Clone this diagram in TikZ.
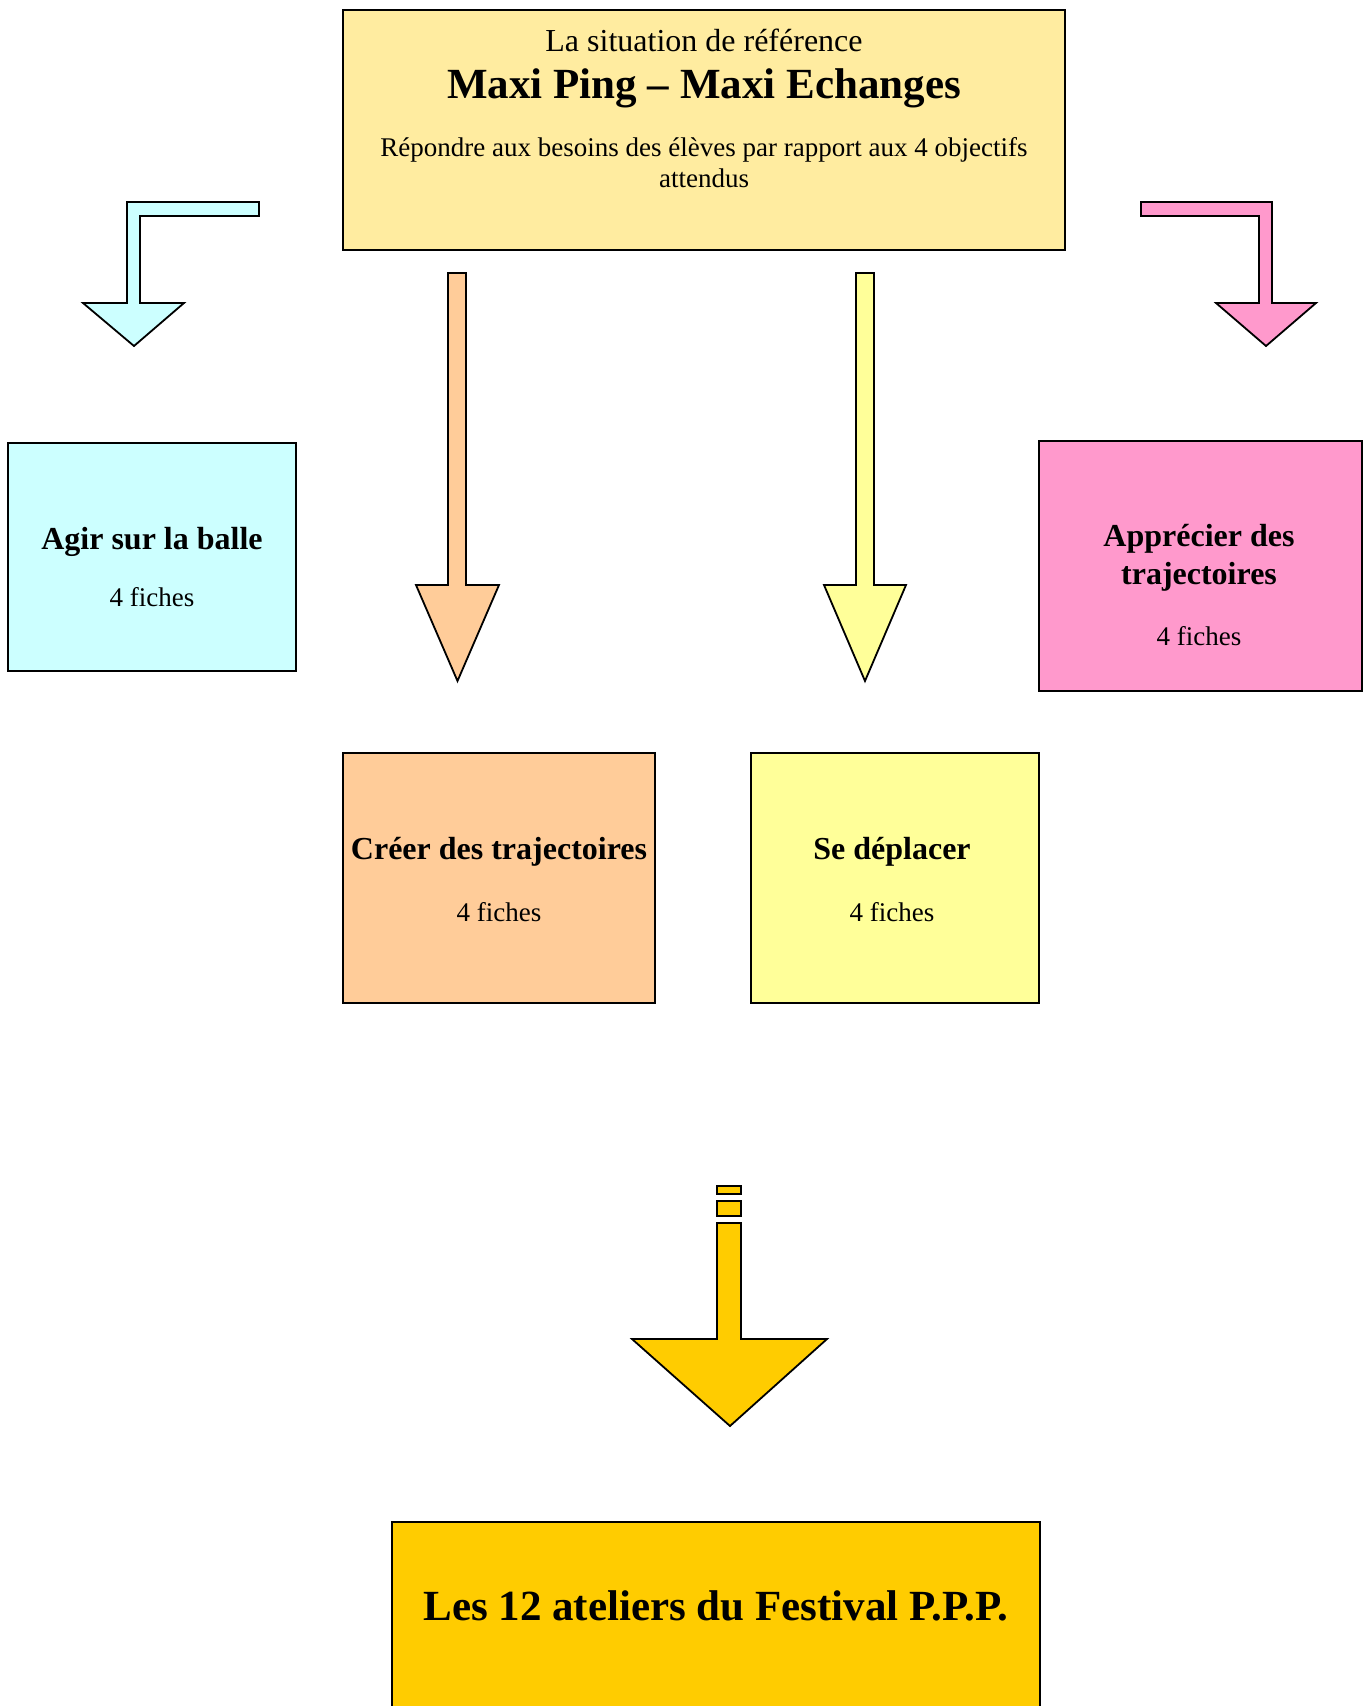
\documentclass[tikz,border=0pt]{standalone}
\usepackage{fontspec}
\setmainfont{Liberation Serif}
\definecolor{topc}{HTML}{FFECA0}
\definecolor{cyanc}{HTML}{CCFFFF}
\definecolor{pinkc}{HTML}{FF99CC}
\definecolor{orangec}{HTML}{FFCC99}
\definecolor{yellowc}{HTML}{FFFF99}
\definecolor{goldc}{HTML}{FFCC00}
\begin{document}
\begin{tikzpicture}[x=1pt,y=-1pt,
  box/.style={draw=black, line width=2pt, inner sep=0pt},
  blockarrow/.style={draw=black, line width=1.8pt, line join=miter},
  lbl/.style={inner sep=0pt, text height=0.7em, text depth=0.2em, anchor=center},
  smalltxt/.style={lbl, yshift=-7pt, font=\fontsize{27}{30}\selectfont},
  midtxt/.style={lbl, yshift=-9pt, font=\fontsize{32}{36}\selectfont},
  boldtxt/.style={lbl, yshift=-9pt, font=\fontsize{32}{36}\selectfont\bfseries},
  bigtxt/.style={lbl, yshift=-12pt, font=\fontsize{43}{48}\selectfont\bfseries}]
\useasboundingbox (0,0) rectangle (1365,1706);
\clip (0,0) rectangle (1365,1706);

% boxes
\node[box, fill=topc, minimum width=722pt, minimum height=240pt] (top) at (704,130) {};
\node[box, fill=cyanc, minimum width=288pt, minimum height=228pt] (agir) at (152,557) {};
\node[box, fill=pinkc, minimum width=323pt, minimum height=250pt] (appr) at (1200.5,566) {};
\node[box, fill=orangec, minimum width=312pt, minimum height=250pt] (creer) at (499,878) {};
\node[box, fill=yellowc, minimum width=288pt, minimum height=250pt] (depl) at (895,878) {};
\node[box, fill=goldc, minimum width=648pt, minimum height=240pt] (fest) at (716,1642) {};

% top texts
\node[midtxt] (t1) at (704,40) {La situation de référence};
\node[bigtxt] (t2) at (704,84) {Maxi Ping – Maxi Echanges};
\node[smalltxt] (t3) at (704,147) {Répondre aux besoins des élèves par rapport aux 4 objectifs};
\node[smalltxt] (t4) at (704,178) {attendus};

% box texts
\node[boldtxt] (a1) at (152,538) {Agir sur la balle};
\node[smalltxt] (a2) at (152,597) {4 fiches};
\node[boldtxt] (p1) at (1199,535) {Apprécier des};
\node[boldtxt] (p2) at (1199,573) {trajectoires};
\node[smalltxt] (p3) at (1199,636) {4 fiches};
\node[boldtxt] (c1) at (499,848) {Créer des trajectoires};
\node[smalltxt] (c2) at (499,912) {4 fiches};
\node[boldtxt] (d1) at (892,848) {Se déplacer};
\node[smalltxt] (d2) at (892,912) {4 fiches};
\node[bigtxt] (f1) at (716,1606) {Les 12 ateliers du Festival P.P.P.};

% bent arrows
\draw[blockarrow, fill=cyanc] (259,202) -- (127,202) -- (127,303) -- (83,303) -- (134,346) -- (184,303) -- (140,303) -- (140,216) -- (259,216) -- cycle;
\draw[blockarrow, fill=pinkc] (1141,202) -- (1272,202) -- (1272,303) -- (1316,303) -- (1266,346) -- (1216,303) -- (1259,303) -- (1259,216) -- (1141,216) -- cycle;

% straight arrows
\draw[blockarrow, fill=orangec] (448,273) -- (466,273) -- (466,585) -- (499,585) -- (457.5,681) -- (416,585) -- (448,585) -- cycle;
\draw[blockarrow, fill=yellowc] (856,273) -- (874,273) -- (874,585) -- (906,585) -- (865,681) -- (824,585) -- (856,585) -- cycle;

% gold arrow
\draw[blockarrow, fill=goldc] (717,1186) rectangle (741,1194);
\draw[blockarrow, fill=goldc] (717,1201) rectangle (741,1216);
\draw[blockarrow, fill=goldc] (717,1223) -- (741,1223) -- (741,1339) -- (827,1339) -- (730,1426) -- (632,1339) -- (717,1339) -- cycle;
\end{tikzpicture}
\end{document}
